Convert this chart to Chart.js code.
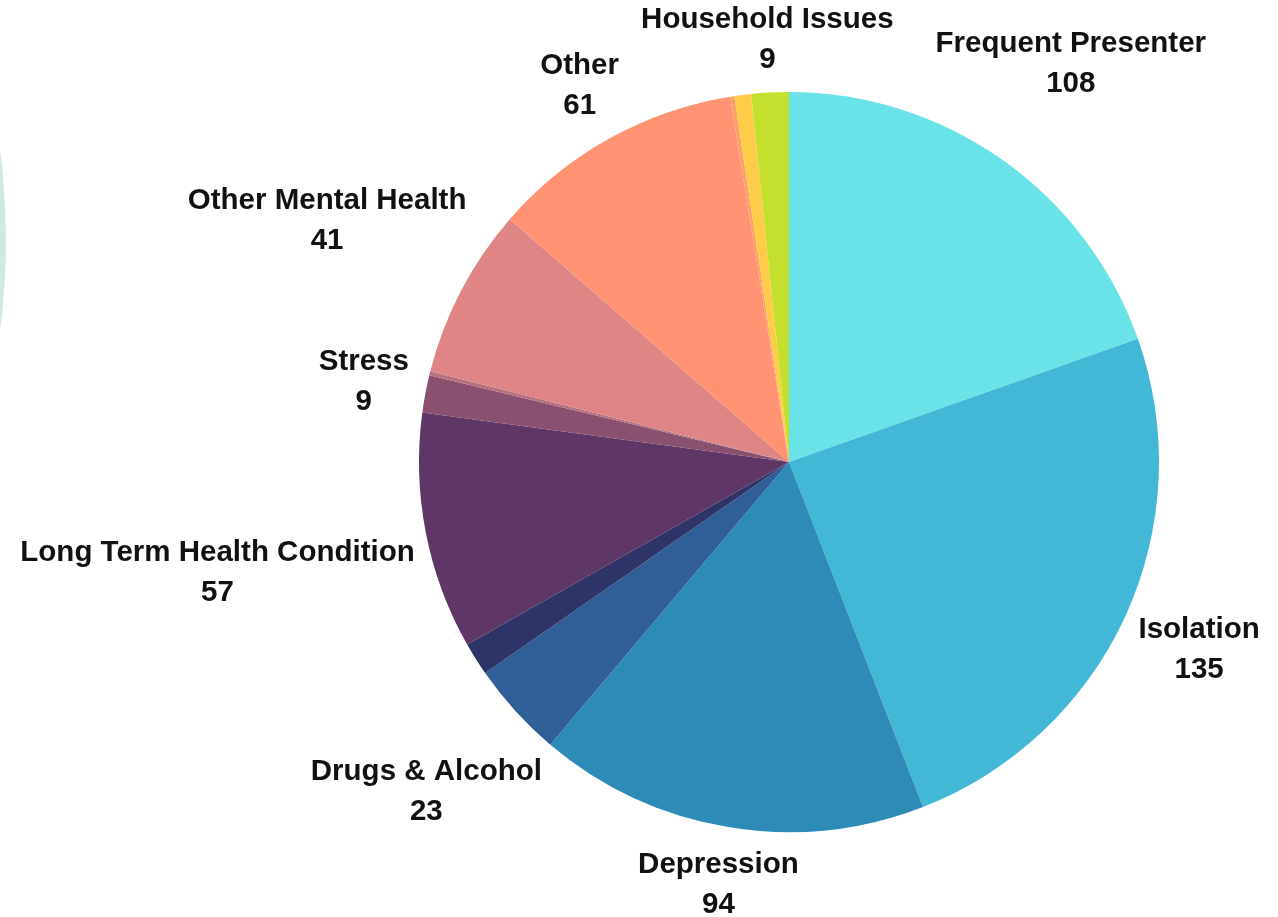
<!DOCTYPE html>
<html>
<head>
<meta charset="utf-8">
<script src="https://cdn.jsdelivr.net/npm/chart.js@4.4.1/dist/chart.umd.min.js"></script>
<style>
    html, body { margin: 0; padding: 0; background: #ffffff; overflow: hidden; }
    #wrap { position: relative; width: 1278px; height: 917px; }
    #deco {
        position: absolute; left: -1350px; top: -438px;
        width: 1356px; height: 1356px; border-radius: 50%;
        background: #cfe9e1;
    }
    #wrap canvas { position: absolute; left: 0; top: 0; }
</style>
</head>
<body>
<div id="wrap">
    <div id="deco"></div>
    <canvas id="reasons-chart" width="1278" height="917"></canvas>
</div>
<script>
// --- Chart data ---
const categories = [
    'Frequent Presenter', 'Isolation', 'Depression', 'Drugs & Alcohol', '',
    'Long Term Health Condition', 'Stress', '', 'Other Mental Health',
    'Other', '', '', 'Household Issues'
];
const referralCounts = [108, 135, 94, 23, 8, 57, 9, 1, 41, 61, 1, 4, 9];
const sliceColours = [
    '#6ae3e8', '#42b7d6', '#2e8bb8', '#2f5f96', '#2f3468',
    '#5e3766', '#8a5070', '#b8707f', '#e08585',
    '#ff9373', '#fba264', '#ffcc4a', '#c5df2e'
];

// Draws "name / value" outside each labelled slice, pushed out along the mid angle
const outsideLabels = {
    id: 'outsideLabels',
    afterDatasetsDraw(chart) {
        const ctx = chart.ctx;
        const meta = chart.getDatasetMeta(0);
        const values = chart.data.datasets[0].data;
        const lineHeight = 40;
        const gap = 12;

        ctx.save();
        ctx.font = '700 29.5px "Liberation Sans", Arial, sans-serif';
        ctx.fillStyle = '#111111';
        ctx.textAlign = 'center';
        ctx.textBaseline = 'middle';

        meta.data.forEach((arc, i) => {
            const name = chart.data.labels[i];
            if (!name) return;
            const p = arc.getProps(['x', 'y', 'startAngle', 'endAngle', 'outerRadius'], true);
            const mid = (p.startAngle + p.endAngle) / 2;
            const ux = Math.cos(mid);
            const uy = Math.sin(mid);
            const lines = [name, String(values[i])];
            const w = Math.max(...lines.map(l => ctx.measureText(l).width));
            const h = lines.length * lineHeight - 12;
            const reach = Math.abs(ux) * w / 2 + Math.abs(uy) * h / 2;
            const dist = p.outerRadius + gap + reach;
            const cx = p.x + ux * dist;
            const cy = p.y + uy * dist;
            lines.forEach((l, k) => {
                ctx.fillText(l, cx, cy + (k - (lines.length - 1) / 2) * lineHeight);
            });
        });
        ctx.restore();
    }
};

new Chart(document.getElementById('reasons-chart'), {
    type: 'pie',
    data: {
        labels: categories,
        datasets: [{
            data: referralCounts,
            backgroundColor: sliceColours,
            borderWidth: 0,
            hoverOffset: 0,
            offset: 0
        }]
    },
    options: {
        responsive: false,
        animation: false,
        layout: { padding: { left: 419, right: 119, top: 92, bottom: 85 } },
        plugins: {
            legend: { display: false },
            tooltip: { enabled: false }
        }
    },
    plugins: [outsideLabels]
});
</script>
</body>
</html>
